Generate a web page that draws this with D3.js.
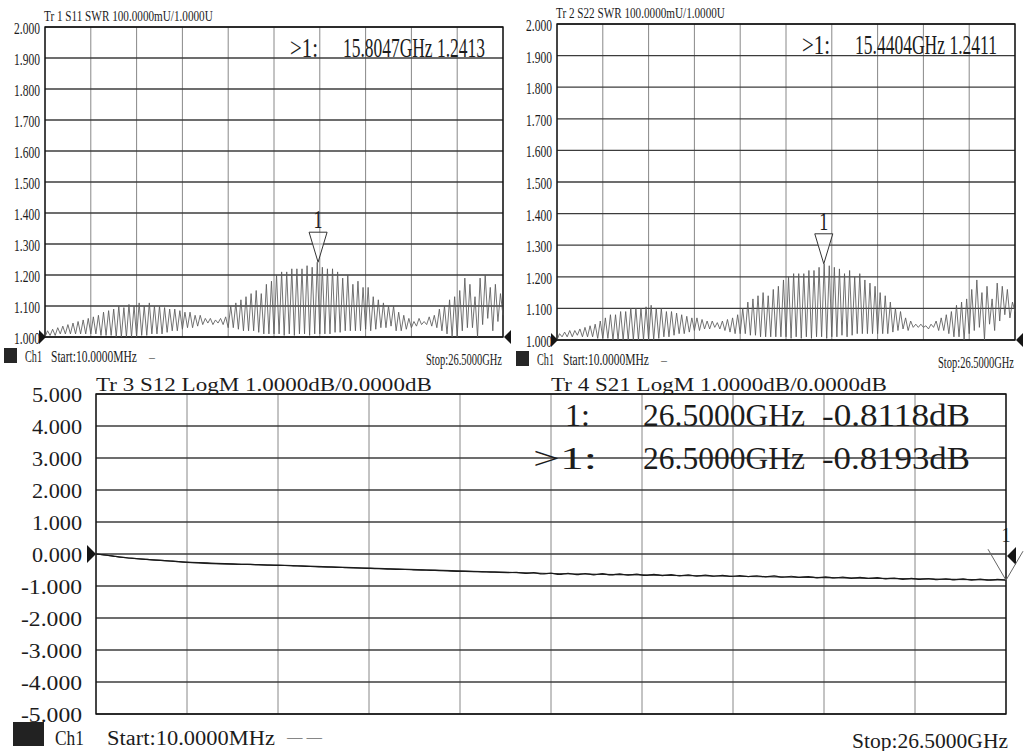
<!DOCTYPE html>
<html>
<head>
<meta charset="utf-8">
<script src="https://cdn.jsdelivr.net/npm/d3@7"></script>
<style>
  html, body { margin: 0; padding: 0; background: #fff; }
  svg text { font-family: "Liberation Serif", "DejaVu Serif", serif; fill: #1c1c1c; }
</style>
</head>
<body>
<div id="container"></div>
<script>
// sweep
const fStart = 0.01;
const fStop = 26.5;
const swrTicks = [2.0, 1.9, 1.8, 1.7, 1.6, 1.5, 1.4, 1.3, 1.2, 1.1, 1.0];
const lossTicks = [5, 4, 3, 2, 1, 0, -1, -2, -3, -4, -5];

// S11 SWR, peaks and dips (9 ripples per division)
const s11Peaks = [
  1.020, 1.025, 1.030, 1.035, 1.040, 1.045, 1.050, 1.055, 1.060,
  1.065, 1.070, 1.080, 1.085, 1.090, 1.100, 1.095, 1.105, 1.100,
  1.110, 1.100, 1.110, 1.100, 1.100, 1.095, 1.090, 1.090, 1.085,
  1.080, 1.080, 1.070, 1.070, 1.060, 1.060, 1.055, 1.060, 1.065,
  1.100, 1.110, 1.120, 1.130, 1.140, 1.150, 1.140, 1.170, 1.180,
  1.200, 1.210, 1.210, 1.220, 1.220, 1.220, 1.230, 1.225, 1.241,
  1.225, 1.220, 1.220, 1.210, 1.190, 1.200, 1.170, 1.180, 1.160,
  1.160, 1.130, 1.120, 1.110, 1.100, 1.100, 1.080, 1.070, 1.060,
  1.050, 1.060, 1.050, 1.065, 1.070, 1.090, 1.100, 1.120, 1.130,
  1.150, 1.190, 1.170, 1.130, 1.190, 1.200, 1.160, 1.170, 1.140
];
const s11Dips = [
  1.000, 1.005, 1.005, 1.010, 1.010, 1.010, 1.010, 1.010, 1.010,
  1.010, 1.010, 1.005, 1.005, 1.005, 1.000, 1.000, 1.000, 1.000,
  1.000, 1.005, 1.005, 1.010, 1.010, 1.010, 1.015, 1.020, 1.020,
  1.025, 1.030, 1.030, 1.035, 1.040, 1.045, 1.040, 1.045, 1.040,
  1.030, 1.030, 1.025, 1.020, 1.020, 1.020, 1.015, 1.010, 1.010,
  1.010, 1.010, 1.005, 1.010, 1.005, 1.010, 1.010, 1.005, 1.010,
  1.010, 1.010, 1.010, 1.015, 1.015, 1.020, 1.020, 1.020, 1.020,
  1.025, 1.020, 1.025, 1.030, 1.030, 1.035, 1.020, 1.020, 1.025,
  1.030, 1.035, 1.040, 1.040, 1.035, 1.030, 1.020, 1.010, 1.000,
  1.000, 1.020, 1.030, 1.030, 1.000, 1.040, 1.060, 1.020, 1.050, 1.070
];

// S22 SWR
const s22Peaks = [
  1.020, 1.025, 1.030, 1.030, 1.035, 1.040, 1.045, 1.050, 1.060,
  1.070, 1.080, 1.080, 1.090, 1.090, 1.100, 1.100, 1.100, 1.105,
  1.110, 1.100, 1.100, 1.090, 1.090, 1.085, 1.080, 1.075, 1.070,
  1.070, 1.065, 1.060, 1.060, 1.055, 1.060, 1.065, 1.070, 1.080,
  1.100, 1.120, 1.130, 1.140, 1.150, 1.140, 1.160, 1.170, 1.190,
  1.200, 1.210, 1.210, 1.210, 1.220, 1.220, 1.230, 1.241, 1.235,
  1.230, 1.225, 1.210, 1.220, 1.200, 1.210, 1.190, 1.180, 1.170,
  1.150, 1.140, 1.120, 1.100, 1.090, 1.070, 1.060, 1.050, 1.050,
  1.045, 1.050, 1.060, 1.070, 1.080, 1.090, 1.110, 1.120, 1.130,
  1.160, 1.190, 1.150, 1.170, 1.130, 1.180, 1.170, 1.160, 1.120
];
const s22Dips = [
  1.000, 1.010, 1.010, 1.010, 1.015, 1.010, 1.010, 1.010, 1.005,
  1.005, 1.005, 1.000, 1.000, 1.000, 1.000, 1.000, 1.000, 1.000,
  1.000, 1.000, 1.005, 1.010, 1.010, 1.015, 1.020, 1.020, 1.025,
  1.030, 1.030, 1.035, 1.035, 1.040, 1.035, 1.030, 1.025, 1.020,
  1.020, 1.020, 1.015, 1.015, 1.010, 1.010, 1.010, 1.010, 1.010,
  1.010, 1.005, 1.010, 1.005, 1.010, 1.005, 1.010, 1.010, 1.005,
  1.010, 1.010, 1.015, 1.010, 1.015, 1.020, 1.020, 1.020, 1.020,
  1.020, 1.020, 1.020, 1.025, 1.030, 1.035, 1.030, 1.040, 1.040,
  1.040, 1.035, 1.040, 1.030, 1.030, 1.020, 1.010, 1.010, 1.000,
  1.020, 1.030, 1.040, 1.000, 1.050, 1.030, 1.060, 1.080, 1.070, 1.090
];

// S12 LogM (dB), smooth
const s12Freqs = [0.01, 0.4, 0.8, 1.8, 2.65, 5.3, 7.95, 10.6, 13.25, 15.9, 18.55, 21.2, 23.85, 26.5];
const s12Loss = [0, -0.05, -0.11, -0.19, -0.26, -0.35, -0.44, -0.53, -0.61, -0.655, -0.695, -0.74, -0.78, -0.812];

// S21 LogM (dB), one point per 0.25 GHz, rippled above ~12 GHz
const s21Step = 0.25;
const s21Loss = [
  0.000, -0.030, -0.065, -0.100, -0.125, -0.150, -0.170, -0.190, -0.205, -0.225,
  -0.245, -0.260, -0.270, -0.280, -0.290, -0.300, -0.310, -0.320, -0.325, -0.335,
  -0.345, -0.355, -0.360, -0.370, -0.380, -0.390, -0.400, -0.410, -0.415, -0.425,
  -0.435, -0.445, -0.450, -0.460, -0.470, -0.480, -0.485, -0.495, -0.505, -0.510,
  -0.520, -0.530, -0.540, -0.545, -0.550, -0.560, -0.565, -0.575, -0.580, -0.575,
  -0.605, -0.585, -0.625, -0.600, -0.640, -0.605, -0.645, -0.610, -0.650, -0.615,
  -0.655, -0.620, -0.660, -0.630, -0.670, -0.635, -0.675, -0.645, -0.685, -0.655,
  -0.690, -0.660, -0.695, -0.665, -0.700, -0.675, -0.705, -0.680, -0.715, -0.685,
  -0.725, -0.695, -0.730, -0.705, -0.745, -0.715, -0.750, -0.720, -0.760, -0.730,
  -0.765, -0.740, -0.775, -0.750, -0.790, -0.760, -0.795, -0.765, -0.805, -0.775,
  -0.810, -0.780, -0.815, -0.785, -0.820, -0.795, -0.819
];

const svg = d3
  .select('#container')
  .append('svg')
  .attr('width', 1024)
  .attr('height', 751)
  .style('display', 'block');

svg.append('rect').attr('width', 1024).attr('height', 751).attr('fill', '#fff');

// text squeezed horizontally to the printer's narrow glyphs
function addText(x, y, str, size, len, anchor) {
  const t = svg
    .append('text')
    .attr('font-size', size)
    .attr('text-anchor', anchor || 'start')
    .text(str);
  let sx = 1;
  if (len) sx = len / t.node().getComputedTextLength();
  t.attr('transform', 'translate(' + x + ',' + y + ') scale(' + sx + ',1)');
  return t;
}

function gridAndFrame(x, y, yTicks) {
  const g = svg.append('g');
  const vTicks = d3.range(11).map((i) => fStart + (i * (fStop - fStart)) / 10);
  g.selectAll('.v')
    .data(vTicks)
    .enter()
    .append('line')
    .attr('x1', (d) => x(d))
    .attr('x2', (d) => x(d))
    .attr('y1', y.range()[0])
    .attr('y2', y.range()[1])
    .attr('stroke', '#7a7a7a')
    .attr('stroke-width', 0.9);
  g.selectAll('.h')
    .data(yTicks)
    .enter()
    .append('line')
    .attr('x1', x.range()[0])
    .attr('x2', x.range()[1])
    .attr('y1', (d) => y(d))
    .attr('y2', (d) => y(d))
    .attr('stroke', '#3c3c3c')
    .attr('stroke-width', 1.3);
  g.append('rect')
    .attr('x', x.range()[0])
    .attr('y', y.range()[1])
    .attr('width', x.range()[1] - x.range()[0])
    .attr('height', y.range()[0] - y.range()[1])
    .attr('fill', 'none')
    .attr('stroke', '#111')
    .attr('stroke-width', 1.4);
}

function refTriangle(xp, yp, dir, s) {
  // dir 1 = points right, -1 = points left
  svg
    .append('path')
    .attr('d', 'M' + xp + ',' + yp + 'L' + (xp - dir * s) + ',' + (yp - s) + 'L' + (xp - dir * s) + ',' + (yp + s) + 'Z')
    .attr('fill', '#151515');
}

function swrPanel(cfg) {
  const x = d3.scaleLinear().domain([fStart, fStop]).range([cfg.left, cfg.right]);
  const y = d3.scaleLinear().domain([1, 2]).range([cfg.bottom, cfg.top]);
  gridAndFrame(x, y, swrTicks);

  swrTicks.forEach((t) => addText(cfg.left - 5, y(t) + 7, d3.format('.3f')(t), 17, 26, 'end'));
  addText(cfg.left - 1, cfg.top - 6, cfg.title, 15, 169);

  // trace: dip, peak, dip, ...
  const n = cfg.peaks.length;
  const fAt = (k) => fStart + (k / n) * (fStop - fStart);
  const pts = [];
  cfg.dips.forEach((d, i) => {
    pts.push([fAt(i), d]);
    if (i < n) pts.push([fAt(i + 0.5), cfg.peaks[i]]);
  });
  svg
    .append('path')
    .datum(pts)
    .attr('fill', 'none')
    .attr('stroke', '#5a5a5a')
    .attr('stroke-width', 0.85)
    .attr('d', d3.line().x((d) => x(d[0])).y((d) => y(d[1])));

  refTriangle(cfg.left + 1, y(1), 1, 7);
  refTriangle(cfg.right + 1, y(1), -1, 7);

  // marker 1
  const mx = x(cfg.marker.f);
  const my = y(cfg.marker.v);
  svg
    .append('path')
    .attr('d', 'M' + mx + ',' + my + 'L' + (mx - 9) + ',' + (my - 30) + 'L' + (mx + 9) + ',' + (my - 30) + 'Z')
    .attr('fill', '#fff')
    .attr('fill-opacity', 0.6)
    .attr('stroke', '#333')
    .attr('stroke-width', 1);
  addText(mx, my - 34, '1', 25, 9, 'middle');

  // readout
  addText(cfg.left + 245, cfg.top + 30, '>1:', 27, 28);
  addText(cfg.left + 298, cfg.top + 30, cfg.readout, 27, 142);

  // footer
  const fy = cfg.bottom + 25;
  svg.append('rect').attr('x', cfg.left - 41).attr('y', fy - 14).attr('width', 13).attr('height', 15).attr('fill', '#262626');
  addText(cfg.left - 20, fy, 'Ch1', 16, 17);
  addText(cfg.left + 6, fy, 'Start:10.0000MHz', 16, 86);
  addText(cfg.left + 104, fy - 1, '\u2014', 11, 6);
  addText(cfg.right - 1, fy + 3, 'Stop:26.5000GHz', 16, 76, 'end');
}

swrPanel({
  left: 45, right: 503, top: 27, bottom: 337,
  title: 'Tr 1  S11 SWR 100.0000mU/1.0000U',
  peaks: s11Peaks, dips: s11Dips,
  marker: { f: 15.8047, v: 1.2413 },
  readout: '15.8047GHz 1.2413'
});

swrPanel({
  left: 557, right: 1015, top: 24, bottom: 340,
  title: 'Tr 2  S22 SWR 100.0000mU/1.0000U',
  peaks: s22Peaks, dips: s22Dips,
  marker: { f: 15.4404, v: 1.2411 },
  readout: '15.4404GHz 1.2411'
});

// bottom LogM panel
const xL = d3.scaleLinear().domain([fStart, fStop]).range([96, 1006]);
const yL = d3.scaleLinear().domain([-5, 5]).range([714, 394]);
gridAndFrame(xL, yL, lossTicks);

lossTicks.forEach((t) =>
  addText(82, yL(t) + 8, d3.format('.3f')(t).replace('\u2212', '-'), 22, t < 0 ? 61 : 50, 'end')
);
addText(96, 391, 'Tr 3  S12 LogM 1.0000dB/0.0000dB', 19, 336);
addText(551, 391, 'Tr 4  S21 LogM 1.0000dB/0.0000dB', 19, 336);

svg
  .append('path')
  .datum(s12Freqs.map((f, i) => [f, s12Loss[i]]))
  .attr('fill', 'none')
  .attr('stroke', '#2a2a2a')
  .attr('stroke-width', 1.2)
  .attr('d', d3.line().curve(d3.curveMonotoneX).x((d) => xL(d[0])).y((d) => yL(d[1])));

svg
  .append('path')
  .datum(s21Loss.map((v, i) => [Math.max(fStart, i * s21Step), v]))
  .attr('fill', 'none')
  .attr('stroke', '#1a1a1a')
  .attr('stroke-width', 1.2)
  .attr('d', d3.line().curve(d3.curveMonotoneX).x((d) => xL(d[0])).y((d) => yL(d[1])));

refTriangle(96, yL(0), 1, 9);
refTriangle(1007, yL(0) + 2, -1, 9);

// marker 1 at stop
const bx = xL(26.5);
const by = yL(-0.8193);
svg
  .append('path')
  .attr('d', 'M' + (bx - 18) + ',' + (by - 31) + 'L' + bx + ',' + by + 'L' + (bx + 17) + ',' + (by - 29))
  .attr('fill', 'none')
  .attr('stroke', '#666')
  .attr('stroke-width', 1);
addText(bx, by - 38, '1', 22, 9, 'middle');

// marker readouts
addText(565, 426, '1:', 32, 25);
addText(643, 426, '26.5000GHz', 32, 162);
addText(822, 426, '-0.8118dB', 32, 148);
addText(533, 469, '>1:', 32, 64);
addText(643, 469, '26.5000GHz', 32, 162);
addText(822, 469, '-0.8193dB', 32, 148);

// footer
svg.append('rect').attr('x', 13).attr('y', 722).attr('width', 31).attr('height', 24).attr('fill', '#222');
addText(55, 745, 'Ch1', 20, 29);
addText(107, 745, 'Start:10.0000MHz', 20, 168);
addText(287, 742, '\u2014 \u2014', 14, 35);
addText(1008, 748, 'Stop:26.5000GHz', 20, 156, 'end');
</script>
</body>
</html>
